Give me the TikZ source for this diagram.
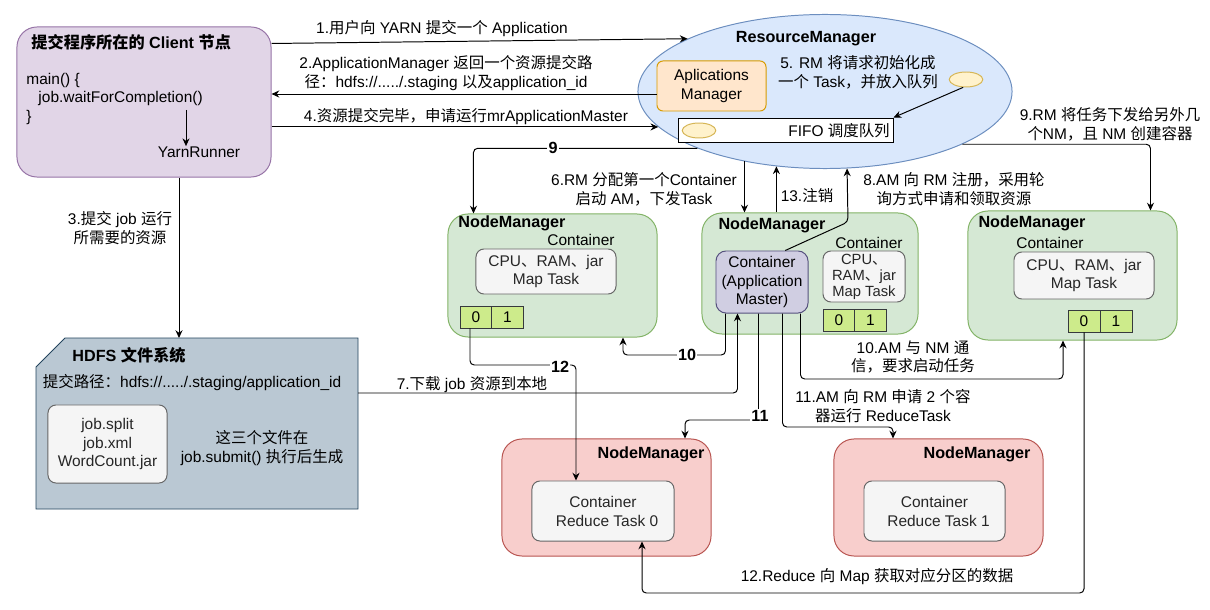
\documentclass[tikz,border=0pt]{standalone}
\usepackage{fontspec}
\setmainfont{Liberation Sans}
\newfontfamily\cjkfont{Noto Sans CJK SC}
% CJK characters switch to the CJK font by themselves
\XeTeXinterchartokenstate=1
\newXeTeXintercharclass\cjkclass
\makeatletter
\count@="2E80
\loop\XeTeXcharclass\count@=\cjkclass
\ifnum\count@<"9FFF \advance\count@\@ne\repeat
\count@="FF00
\loop\XeTeXcharclass\count@=\cjkclass
\ifnum\count@<"FFEF \advance\count@\@ne\repeat
\makeatother
\XeTeXinterchartoks 0 \cjkclass = {\begingroup\cjkfont}
\XeTeXinterchartoks 4095 \cjkclass = {\begingroup\cjkfont}
\XeTeXinterchartoks \cjkclass 0 = {\endgroup}
\XeTeXinterchartoks \cjkclass 4095 = {\endgroup}
\usetikzlibrary{positioning}
\usetikzlibrary{calc}
\usetikzlibrary{arrows.meta}
\usetikzlibrary{shapes.geometric}
\definecolor{clientfill}{HTML}{E1D5E7}
\definecolor{clientline}{HTML}{9673A6}
\definecolor{rmfill}{HTML}{DAE8FC}
\definecolor{rmline}{HTML}{6C8EBF}
\definecolor{apmfill}{HTML}{FFE6CC}
\definecolor{apmline}{HTML}{D79B00}
\definecolor{qfill}{HTML}{FFF2CC}
\definecolor{qline}{HTML}{D6B656}
\definecolor{nmfill}{HTML}{D5E8D4}
\definecolor{nmline}{HTML}{82B366}
\definecolor{amfill}{HTML}{D0CEE2}
\definecolor{amline}{HTML}{56517E}
\definecolor{infill}{HTML}{F5F5F5}
\definecolor{inline}{HTML}{666666}
\definecolor{cellfill}{HTML}{CDEB8B}
\definecolor{cellline}{HTML}{36393D}
\definecolor{redfill}{HTML}{F8CECC}
\definecolor{redline}{HTML}{B85450}
\definecolor{hdfsfill}{HTML}{BAC8D3}
\definecolor{hdfsline}{HTML}{23445D}
\tikzset{
    clientbox/.style = {draw=clientline, fill=clientfill, rounded corners=0.5cm, minimum width=6.35cm, minimum height=3.75cm},
    apmbox/.style = {draw=apmline, fill=apmfill, rounded corners=0.15cm, align=center, minimum width=2.725cm, minimum height=1.25cm},
    qell/.style = {ellipse, draw=qline, fill=qfill, inner sep=0pt, minimum width=0.84cm, minimum height=0.375cm},
    fifobox/.style = {draw=black, fill=white, minimum width=5.35cm, minimum height=0.6cm},
    greenbox/.style = {draw=nmline, fill=nmfill, rounded corners=0.5cm, minimum width=5.225cm},
    redbox/.style = {draw=redline, fill=redfill, rounded corners=0.5cm, minimum width=5.225cm, minimum height=2.925cm},
    innerbox/.style = {draw=inline, fill=infill, rounded corners=0.2cm, align=center, text=black!85},
    ambox/.style = {draw=amline, fill=amfill, rounded corners=0.25cm, align=center, minimum width=2.3cm, minimum height=1.55cm},
    cellbox/.style = {draw=cellline, fill=cellfill, minimum width=0.8cm, minimum height=0.55cm, inner sep=0pt},
    titletxt/.style = {inner sep=0pt, font=\bfseries\fontsize{11.5}{13.5}\selectfont},
}
\begin{document}
\begin{tikzpicture}[
	x=0.025cm, y=-0.025cm,
	line width=0.7pt,
	font=\fontsize{11}{13.5}\selectfont
]
\tikzset{
    edgea/.style = {-{Stealth[length=5.5pt,width=5pt]}, rounded corners=3pt},
    numlbl/.style = {fill=white, inner sep=1pt, font=\bfseries\fontsize{11.5}{13}\selectfont},
    lbl/.style = {align=center, inner sep=0pt},
}
\useasboundingbox (0,0) rectangle (1210,610);
% client
\node[clientbox] at (144,102) (client) {};
\node[titletxt, anchor=west] at (31,42) (ctitle) {提交程序所在的 Client 节点};
\node[lbl, anchor=west, align=left] at (26,99) (code) {main() \{\\\hspace*{0.3cm}job.waitForCompletion()\\\}};
\node[lbl] at (199,152) (yarn) {YarnRunner};
\coordinate (wfc) at (186,110);
\draw[edgea] (wfc) -- (wfc |- yarn.north);
%
% resource manager
\node[ellipse, draw=rmline, fill=rmfill, minimum width=9.35cm, minimum height=3.85cm, inner sep=0pt] at (825,91.5) (rm) {};
\node[titletxt] at (806,39) (rmtitle) {ResourceManager};
\node[apmbox] at (711.5,86) (apm) {Aplications\\Manager};
\node[lbl] at (858,72) (l5) {5. RM 将请求初始化成\\一个 Task，并放入队列};
\node[qell] at (966,79.5) (q1) {};
\node[fifobox] at (786,130) (fifo) {};
\node[qell] at (699,130.5) (q2) {};
\node[lbl] at (839,131) (fifotxt) {FIFO 调度队列};
\draw[edgea] (q1.250) -- (fifo.north east);
%
% hdfs
\draw[draw=hdfsline, fill=hdfsfill] (36,367) -- (65,338) -- (358,338) -- (358,509) -- (36,509) -- cycle;
\coordinate (hdfsn) at (179,338);
\coordinate (hdfse) at (358,393);
\node[titletxt] at (129,355) (htitle) {HDFS 文件系统};
\node[lbl] at (192,383) (hpath) {提交路径：hdfs://...../.staging/application\_id};
\node[innerbox, minimum width=2.975cm, minimum height=1.95cm, inner sep=0pt] at (107.5,444) (hfiles) {job.split\\job.xml\\WordCount.jar};
\node[lbl] at (262,448) (hnote) {这三个文件在\\job.submit() 执行后生成};
%
% node managers
\node[greenbox, minimum height=3.075cm] at (552.5,275.5) (nm1) {};
\node[titletxt, anchor=west] at (458,223) {NodeManager};
\node[lbl] at (581,240) {Container};
\node[innerbox, minimum width=3.5cm, minimum height=1.125cm] at (546,271.5) (in1) {CPU、RAM、jar\\Map Task};
\node[cellbox] at (476,317) (m1a) {0};
\node[cellbox] at (507.5,317) (m1b) {1};
%
\node[greenbox, minimum width=5.4cm, minimum height=3.025cm] at (810,273.5) (nm2) {};
\node[titletxt, anchor=west] at (718,225) {NodeManager};
\node[ambox] at (762,282) (am) {Container\\(Application\\Master)};
\node[lbl] at (869,243) {Container};
\node[innerbox, minimum width=2.05cm, minimum height=1.275cm, inner sep=0pt, font=\fontsize{10.5}{11.3}\selectfont] at (864,276.5) (in2) {CPU、\\RAM、jar\\Map Task};
\node[cellbox] at (839,320) (m2a) {0};
\node[cellbox] at (870.5,320) (m2b) {1};
%
\node[greenbox, minimum height=3.225cm] at (1072.5,275.5) (nm3) {};
\node[titletxt, anchor=west] at (978,223) {NodeManager};
\node[lbl] at (1050,243) {Container};
\node[innerbox, minimum width=3.5cm, minimum height=1.175cm] at (1084,275.5) (in3) {CPU、RAM、jar\\Map Task};
\node[cellbox] at (1084,321) (m3a) {0};
\node[cellbox] at (1116,321) (m3b) {1};
%
\node[redbox] at (606.5,497.5) (r1) {};
\node[titletxt, anchor=east] at (705,454) {NodeManager};
\node[innerbox, minimum width=3.55cm, minimum height=1.5cm] at (603,511) (r1in) {Container\\\hspace*{0.2cm}Reduce Task 0};
\node[redbox] at (938.5,497.5) (r2) {};
\node[titletxt, anchor=east] at (1031,454) {NodeManager};
\node[innerbox, minimum width=3.525cm, minimum height=1.5cm] at (934.5,511) (r2in) {Container\\\hspace*{0.2cm}Reduce Task 1};
%
% client <-> rm
\coordinate (a2) at ($(apm.west)+(0,8)$);
\draw[edgea] ($(client.north east)+(0,17)$) -- (rm.159);
\draw[edgea] (a2) -- (a2 -| client.east);
\draw[edgea] (rm.192 -| client.east) -- (rm.192);
\draw[edgea] (hdfsn |- client.south) -- (hdfsn);
\node[lbl] at (442,29) {1.用户向 YARN 提交一个 Application};
\node[lbl] at (446,73) {2.ApplicationManager 返回一个资源提交路\\径：hdfs://...../.staging 以及application\_id};
\node[lbl] at (466,117) {4.资源提交完毕，申请运行mrApplicationMaster};
\node[lbl] at (120,228) {3.提交 job 运行\\所需要的资源};
%
% rm <-> node managers
\coordinate (c9l) at ($(nm1.north west)+(26,0)$);
\coordinate (c9r) at ($(nm3.north west)+(183,0)$);
\coordinate (c8) at (848,222);
\draw[edgea] (rm.204) -| (c9l);
\draw[edgea] (rm.-21) -| (c9r);
\draw[edgea] (rm.221.5) -- (rm.221.5 |- nm2.north);
\draw[edgea] (rm.237.8 |- nm2.north) -- (rm.237.8);
\draw[edgea] ($(am.north west)!0.75!(am.north east)$) -- (c8) -- (rm.286.7);
\node[numlbl] at (553,148) {9};
\node[lbl] at (644,189) {6.RM 分配第一个Container\\启动 AM，下发Task};
\node[lbl] at (807,196) {13.注销};
\node[lbl] at (954,189) {8.AM 向 RM 注册，采用轮\\询方式申请和领取资源};
\node[lbl] at (1110,124) {9.RM 将任务下发给另外几\\个NM，且 NM 创建容器};
%
% application master and tasks
\coordinate (c7) at ($(am.south west)+(22,0)$);
\coordinate (c10) at (623,355);
\coordinate (c10r) at (1063,379);
\coordinate (c11) at (685,420);
\coordinate (c11r) at (893,427);
\coordinate (c12) at (576,365);
\coordinate (c12b) at (642,593);
\draw[edgea] (hdfse) -| (c7);
\draw[edgea] ($(am.south west)+(10,0)$) |- (c10) -- (c10 |- nm1.south);
\draw[edgea] ($(am.south west)+(43,0)$) |- (c11) -- (c11 |- r1.north);
\draw[edgea] ($(am.south west)+(67,0)$) |- (c11r) -- (c11r |- r2.north);
\draw[edgea] ($(am.south west)+(85,0)$) |- (c10r) -- (c10r |- nm3.south);
\draw[edgea] ($(m1a.south)+(-6,0)$) |- (c12) -- (c12 |- r1in.north);
\draw[edgea] (m3a.south) |- (c12b) -- (c12b |- r1in.south);
\node[lbl] at (472,385) {7.下载 job 资源到本地};
\node[numlbl] at (687,355) {10};
\node[numlbl] at (760,416) {11};
\node[numlbl] at (560,367) {12};
\node[lbl] at (913,357) {10.AM 与 NM 通\\信，要求启动任务};
\node[lbl] at (883,406) {11.AM 向 RM 申请 2 个容\\器运行 ReduceTask};
\node[lbl] at (877,577) {12.Reduce 向 Map 获取对应分区的数据};
\end{tikzpicture}
\end{document}
